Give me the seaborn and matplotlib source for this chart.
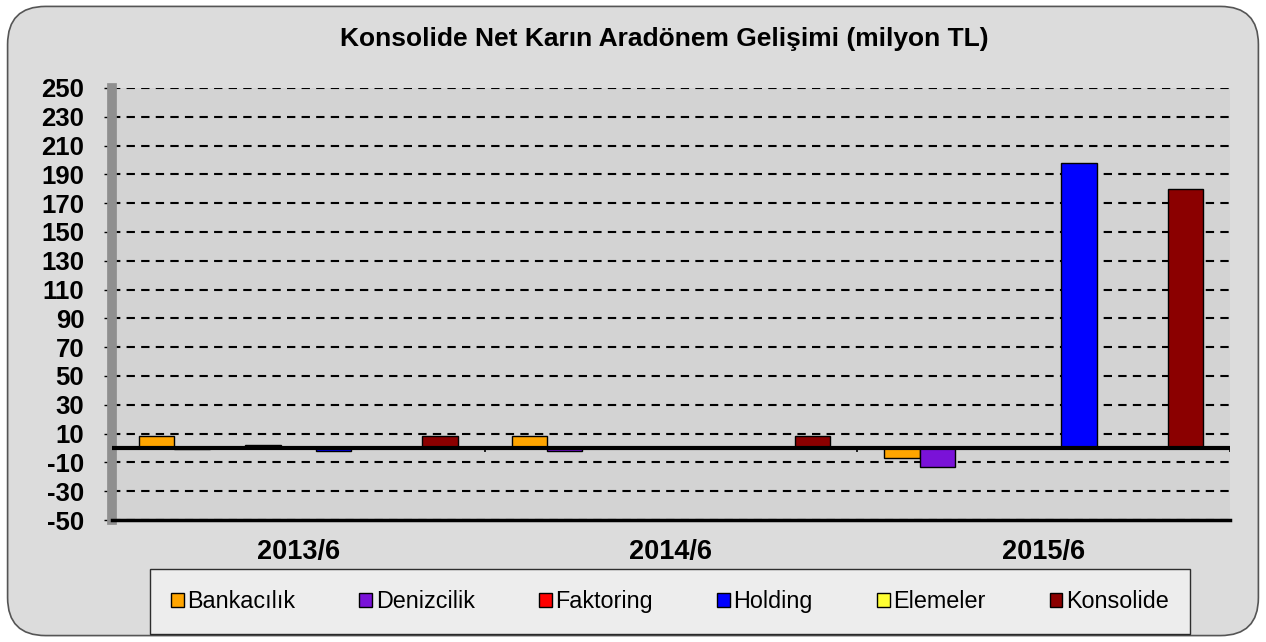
import numpy as np
import pandas as pd
import matplotlib
matplotlib.use('Agg')
import matplotlib.pyplot as plt
from matplotlib.patches import FancyBboxPatch
import seaborn as sns

sns.set_style('white')
plt.rcParams['font.family'] = ['Liberation Sans', 'DejaVu Sans']
plt.rcParams['text.color'] = 'black'
plt.rcParams['xtick.color'] = 'black'
plt.rcParams['ytick.color'] = 'black'

# veriler (milyon TL)
periods = ['2013/6', '2014/6', '2015/6']
segments = ['Bankacılık', 'Denizcilik', 'Faktoring', 'Holding', 'Elemeler', 'Konsolide']
bankacilik = [8, 8, -7]
denizcilik = [-1, -2, -13]
faktoring = [2, 0, 0]
holding = [-2, 0, 198]
elemeler = [0, 0, 0]
konsolide = [8, 8, 180]
colors = {'Bankacılık': '#ffa500', 'Denizcilik': '#7a12d8', 'Faktoring': '#ff0000',
          'Holding': '#0000ff', 'Elemeler': '#ffff33', 'Konsolide': '#8b0000'}
# orijinal grafikte seriler arasinda bos yerler var
slot_order = ['Bankacılık', 'Denizcilik', ' ', 'Faktoring', '  ', 'Holding', '   ', 'Elemeler', 'Konsolide']
for s in slot_order:
    colors.setdefault(s, '#000000')

df = pd.DataFrame({'Dönem': periods, 'Bankacılık': bankacilik, 'Denizcilik': denizcilik,
                   'Faktoring': faktoring, 'Holding': holding, 'Elemeler': elemeler,
                   'Konsolide': konsolide})
df = pd.melt(df, id_vars='Dönem', value_vars=segments, var_name='Segment', value_name='Deger')

fig = plt.figure(figsize=(12.66, 6.42), dpi=100)
fig.patch.set_facecolor('white')
# yuvarlak kenarli cerceve
frame = FancyBboxPatch((0.006, 0.01), 0.988, 0.98, boxstyle='round,pad=0,rounding_size=0.03',
                       transform=fig.transFigure, facecolor='#dcdcdc', edgecolor='#555555',
                       linewidth=1.2, mutation_aspect=1.97, zorder=-10)
fig.patches.append(frame)

ax = fig.add_axes([0.0885, 0.19, 0.883, 0.673])
ax.set_facecolor('#d3d3d3')
sns.barplot(data=df, x='Dönem', y='Deger', hue='Segment', hue_order=slot_order, palette=colors,
            width=0.855, saturation=1, edgecolor='black', linewidth=1, ax=ax, zorder=3)

ax.set_ylim(-50, 250)
ax.set_xlim(-0.5, len(periods) - 0.5)
ticks = np.arange(-50, 251, 20)
ax.set_yticks(ticks)
ax.set_yticklabels([str(t) for t in ticks], fontsize=18.5, fontweight='bold')
for t in ticks:
    ax.axhline(t, color='black', linestyle=(0, (4, 3)), linewidth=1.5, zorder=1)
ax.axhline(0, color='black', linewidth=3, zorder=4)
ax.vlines(np.arange(len(periods)) + 0.5, -3, 0, color='black', linewidth=1.2, zorder=4)
ax.tick_params(axis='y', length=6, width=1, direction='out', left=True, pad=14)
ax.tick_params(axis='x', length=0, pad=14)
ax.set_xticks(range(3))
ax.set_xticklabels(periods, fontsize=19.5, fontweight='bold')
ax.set_xlabel('')
ax.set_ylabel('')
for s in ['top', 'right']:
    ax.spines[s].set_visible(False)
ax.spines['left'].set_linewidth(7)
ax.spines['left'].set_color('#8f8f8f')
ax.spines['bottom'].set_linewidth(2.5)
ax.spines['bottom'].set_color('black')

fig.text(0.525, 0.94, 'Konsolide Net Karın Aradönem Gelişimi (milyon TL)', ha='center', va='center',
         fontsize=19, fontweight='bold')

handles, labels = ax.get_legend_handles_labels()
ax.legend_.remove()
keep = [(h, l) for h, l in zip(handles, labels) if l in segments]
leg = fig.legend([h for h, l in keep], [l for h, l in keep], loc='center',
                 bbox_to_anchor=(0.529, 0.063), ncol=6,
                 fontsize=16.8, frameon=True, fancybox=False, edgecolor='black',
                 handlelength=0.55, handleheight=0.55, handletextpad=0.15, columnspacing=2.75,
                 borderpad=0.9)
leg.get_frame().set_facecolor('#f2f2f2')
leg.get_frame().set_linewidth(1)

fig.savefig('out.png', dpi=100, facecolor=fig.get_facecolor())
